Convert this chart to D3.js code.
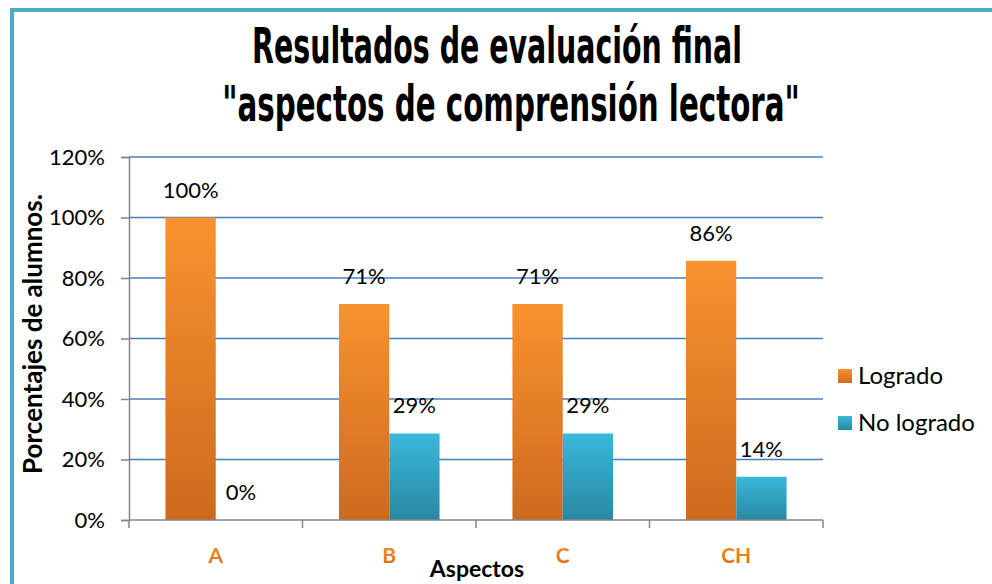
<!DOCTYPE html>
<html>
<head>
<meta charset="utf-8">
<script src="https://cdn.jsdelivr.net/npm/d3@7"></script>
<style>
	body { margin: 0; background: #fff; }
	svg { display: block; }
	text { font-family: Lato, 'Open Sans', sans-serif; }
</style>
</head>
<body>
<div id="chart"></div>
<script>
const categories = ['A', 'B', 'C', 'CH']
const seriesNames = ['Logrado', 'No logrado']
const logrado = [100, 71.4, 71.4, 85.7]
const noLogrado = [0, 28.6, 28.6, 14.3]
const yTicks = [0, 20, 40, 60, 80, 100, 120]
const titleLines = ['Resultados de evaluación final', '"aspectos de comprensión lectora"']

const width = 992
const height = 584
const margin = { top: 157, right: 169, bottom: 64, left: 129 }
const plotW = width - margin.left - margin.right
const plotH = height - margin.top - margin.bottom

const svg = d3.select('#chart').append('svg').attr('width', width).attr('height', height)

// gradients for the bars
const defs = svg.append('defs')
const grad = (id, top, bottom) => {
	const g = defs.append('linearGradient').attr('id', id).attr('x1', 0).attr('y1', 0).attr('x2', 0).attr('y2', 1)
	g.append('stop').attr('offset', '0%').attr('stop-color', top)
	g.append('stop').attr('offset', '100%').attr('stop-color', bottom)
}
grad('gOrange', '#F9922F', '#CD6A1F')
grad('gBlue', '#3AB7DA', '#2889A3')
grad('gText', '#F79430', '#D56D1B')

// frame
svg.append('rect')
	.attr('x', 12).attr('y', 10)
	.attr('width', width + 20).attr('height', height + 20)
	.attr('fill', 'none').attr('stroke', '#4BACC6').attr('stroke-width', 4)

// title: condensed look by squeezing horizontally to the widths seen
const titlePos = [{ cx: 497, y: 63, w: 490 }, { cx: 511, y: 121, w: 578 }]
titleLines.forEach((line, i) => {
	const p = titlePos[i]
	const t = svg.append('text')
		.attr('text-anchor', 'middle')
		.attr('font-weight', 700)
		.attr('font-size', 50)
		.style('font-family', "'DejaVu Sans Condensed', 'DejaVu Sans', sans-serif")
		.text(line)
	const natural = t.node().getComputedTextLength()
	const sx = p.w / natural
	t.attr('transform', `translate(${p.cx},${p.y}) scale(${sx},1)`)
})

const g = svg.append('g').attr('transform', `translate(${margin.left},${margin.top})`)

const y = d3.scaleLinear().domain([0, 120]).range([plotH, 0])
const x0 = d3.scaleBand().domain(categories).range([0, plotW]).paddingInner(0.42).paddingOuter(0.21)
const x1 = d3.scaleBand().domain(seriesNames).range([0, x0.bandwidth()])

// gridlines
g.append('g')
	.selectAll('line')
	.data(yTicks.filter(d => d > 0))
	.enter()
	.append('line')
	.attr('x1', 0).attr('x2', plotW)
	.attr('y1', d => y(d)).attr('y2', d => y(d))
	.attr('stroke', '#4A7EBB').attr('stroke-width', 1.5)

// y axis
const yAxis = g.append('g')
	.call(d3.axisLeft(y).tickValues(yTicks).tickFormat(d => d + '%').tickSize(8).tickPadding(16))
yAxis.select('.domain').attr('stroke', '#868686').attr('stroke-width', 1.5)
yAxis.selectAll('.tick line').attr('stroke', '#868686').attr('stroke-width', 1.5)
yAxis.selectAll('.tick text').attr('font-size', 22).attr('fill', '#000').style('font-family', 'Lato, sans-serif')

// bars
const data = categories.map((c, i) => ({ cat: c, vals: [logrado[i], noLogrado[i]] }))
const fills = ['url(#gOrange)', 'url(#gBlue)']
const groups = g.selectAll('.grp')
	.data(data)
	.enter()
	.append('g')
	.attr('transform', d => `translate(${x0(d.cat)},0)`)

groups.selectAll('rect')
	.data(d => d.vals.map((v, k) => ({ k, v })))
	.enter()
	.append('rect')
	.attr('x', d => x1(seriesNames[d.k]))
	.attr('width', x1.bandwidth())
	.attr('y', d => y(d.v))
	.attr('height', d => plotH - y(d.v))
	.attr('fill', d => fills[d.k])

groups.selectAll('.lbl')
	.data(d => d.vals.map((v, k) => ({ k, v })))
	.enter()
	.append('text')
	.attr('class', 'lbl')
	.attr('text-anchor', 'middle')
	.attr('x', d => x1(seriesNames[d.k]) + x1.bandwidth() / 2)
	.attr('y', d => y(d.v) - 20)
	.attr('font-size', 22)
	.text(d => Math.round(d.v) + '%')

// x axis
const xAxisG = g.append('g').attr('transform', `translate(0,${plotH})`)
xAxisG.append('line').attr('x1', 0).attr('x2', plotW).attr('stroke', '#868686').attr('stroke-width', 1.5)
xAxisG.selectAll('.xt')
	.data(d3.range(categories.length + 1))
	.enter()
	.append('line')
	.attr('x1', d => (d * plotW) / categories.length)
	.attr('x2', d => (d * plotW) / categories.length)
	.attr('y1', 0).attr('y2', 8)
	.attr('stroke', '#868686').attr('stroke-width', 1.5)
xAxisG.selectAll('.xl')
	.data(categories)
	.enter()
	.append('text')
	.attr('x', d => x0(d) + x0.bandwidth() / 2)
	.attr('y', 43)
	.attr('text-anchor', 'middle')
	.attr('font-size', 21)
	.attr('font-weight', 700)
	.attr('fill', 'url(#gText)')
	.text(d => d)

// axis titles
svg.append('text')
	.attr('x', margin.left + plotW / 2 + 1).attr('y', 577)
	.attr('text-anchor', 'middle').attr('font-size', 23).attr('font-weight', 700)
	.text('Aspectos')
svg.append('text')
	.attr('transform', 'translate(42,334) rotate(-90)')
	.attr('text-anchor', 'middle').attr('font-size', 26).attr('font-weight', 700)
	.text('Porcentajes de alumnos.')

// legend
const legend = svg.append('g').attr('transform', 'translate(838,369)')
seriesNames.forEach((s, i) => {
	const row = legend.append('g').attr('transform', `translate(0,${i * 47})`)
	row.append('rect').attr('width', 14).attr('height', 14).attr('fill', fills[i])
	row.append('text').attr('x', 20).attr('y', 15).attr('font-size', 24).text(s)
})
</script>
</body>
</html>
